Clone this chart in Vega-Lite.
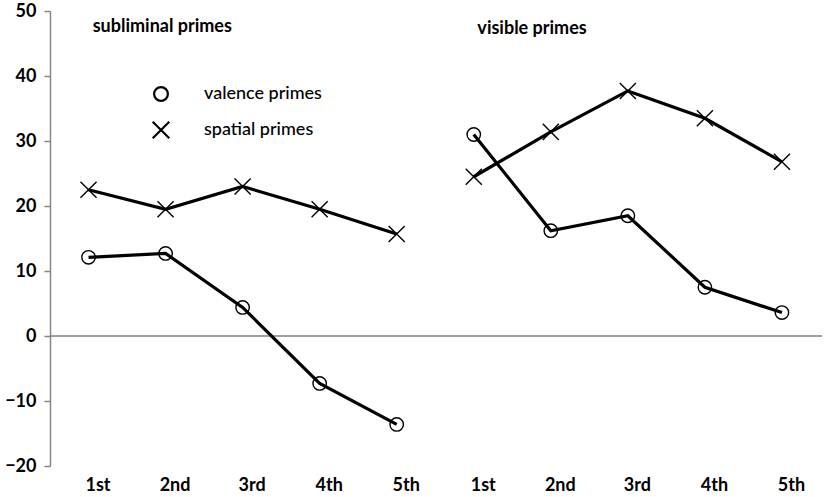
{
  "$schema": "https://vega.github.io/schema/vega-lite/v6.json",
  "width": 772,
  "height": 455,
  "autosize": "none",
  "padding": {"left": 50, "top": 11, "right": 5, "bottom": 31},
  "background": "white",
  "config": {"view": {"stroke": null}, "font": "Lato"},
  "datasets": {
    "pts": [
      {"group": "subliminal", "pos": 1, "rank": "1st", "prime": "valence primes", "value": 12.1},
      {"group": "subliminal", "pos": 2, "rank": "2nd", "prime": "valence primes", "value": 12.7},
      {"group": "subliminal", "pos": 3, "rank": "3rd", "prime": "valence primes", "value": 4.4},
      {"group": "subliminal", "pos": 4, "rank": "4th", "prime": "valence primes", "value": -7.3},
      {"group": "subliminal", "pos": 5, "rank": "5th", "prime": "valence primes", "value": -13.6},
      {"group": "subliminal", "pos": 1, "rank": "1st", "prime": "spatial primes", "value": 22.5},
      {"group": "subliminal", "pos": 2, "rank": "2nd", "prime": "spatial primes", "value": 19.5},
      {"group": "subliminal", "pos": 3, "rank": "3rd", "prime": "spatial primes", "value": 23.0},
      {"group": "subliminal", "pos": 4, "rank": "4th", "prime": "spatial primes", "value": 19.5},
      {"group": "subliminal", "pos": 5, "rank": "5th", "prime": "spatial primes", "value": 15.7},
      {"group": "visible", "pos": 6, "rank": "1st", "prime": "valence primes", "value": 31.0},
      {"group": "visible", "pos": 7, "rank": "2nd", "prime": "valence primes", "value": 16.2},
      {"group": "visible", "pos": 8, "rank": "3rd", "prime": "valence primes", "value": 18.5},
      {"group": "visible", "pos": 9, "rank": "4th", "prime": "valence primes", "value": 7.5},
      {"group": "visible", "pos": 10, "rank": "5th", "prime": "valence primes", "value": 3.6},
      {"group": "visible", "pos": 6, "rank": "1st", "prime": "spatial primes", "value": 24.5},
      {"group": "visible", "pos": 7, "rank": "2nd", "prime": "spatial primes", "value": 31.4},
      {"group": "visible", "pos": 8, "rank": "3rd", "prime": "spatial primes", "value": 37.7},
      {"group": "visible", "pos": 9, "rank": "4th", "prime": "spatial primes", "value": 33.5},
      {"group": "visible", "pos": 10, "rank": "5th", "prime": "spatial primes", "value": 26.8}
    ],
    "titles": [
      {"text": "subliminal primes", "pos": 1.054, "value": 47.6},
      {"text": "visible primes", "pos": 6.047, "value": 47.3}
    ],
    "zero": [{"value": 0}]
  },
  "encoding": {
    "x": {
      "field": "pos",
      "type": "quantitative",
      "scale": {"domain": [0.5, 10.52], "nice": false, "zero": false},
      "axis": {
        "values": [1, 2, 3, 4, 5, 6, 7, 8, 9, 10],
        "labelExpr": "['1st','2nd','3rd','4th','5th'][(datum.value - 1) % 5]",
        "domain": false,
        "ticks": false,
        "grid": false,
        "title": null,
        "labelFontSize": 18,
        "labelFontWeight": "bold",
        "labelColor": "black",
        "labelPadding": 10,
        "labelOffset": 9
      }
    },
    "y": {
      "field": "value",
      "type": "quantitative",
      "scale": {"domain": [-20, 50], "nice": false, "zero": false},
      "axis": {
        "values": [-20, -10, 0, 10, 20, 30, 40, 50],
        "grid": false,
        "title": null,
        "domainColor": "#868686",
        "domainWidth": 1.5,
        "tickColor": "#868686",
        "tickWidth": 1.5,
        "tickSize": 6,
        "labelFontSize": 18,
        "labelFontWeight": "bold",
        "labelColor": "black",
        "labelPadding": 8
      }
    }
  },
  "layer": [
    {
      "data": {"name": "zero"},
      "mark": {"type": "rule", "color": "#7f7f7f", "strokeWidth": 1.5},
      "encoding": {"y": {"field": "value", "type": "quantitative"}, "x": null}
    },
    {
      "data": {"name": "pts"},
      "mark": {"type": "line", "color": "black", "strokeWidth": 3.2},
      "encoding": {
        "detail": [{"field": "group"}, {"field": "prime"}],
        "order": {"field": "pos"}
      }
    },
    {
      "data": {"name": "pts"},
      "mark": {"type": "point", "filled": false, "color": "black", "strokeWidth": 1.4, "size": 180, "opacity": 1},
      "encoding": {
        "shape": {
          "field": "prime",
          "type": "nominal",
          "scale": {
            "domain": ["valence primes", "spatial primes"],
            "range": ["circle", "M-1.2,-1.2L1.2,1.2M-1.2,1.2L1.2,-1.2"]
          },
          "legend": {
            "title": null,
            "orient": "none",
            "legendX": 102,
            "legendY": 74,
            "padding": 0,
            "symbolSize": 190,
            "symbolStrokeWidth": 2.2,
            "symbolStrokeColor": "black",
            "symbolFillColor": "transparent",
            "labelFontSize": 18,
            "labelFontWeight": 500,
            "labelColor": "black",
            "labelOffset": 34,
            "rowPadding": 11
          }
        }
      }
    },
    {
      "data": {"name": "titles"},
      "mark": {"type": "text", "align": "left", "baseline": "middle", "fontSize": 18, "fontWeight": "bold", "color": "black"},
      "encoding": {"text": {"field": "text"}}
    }
  ]
}
